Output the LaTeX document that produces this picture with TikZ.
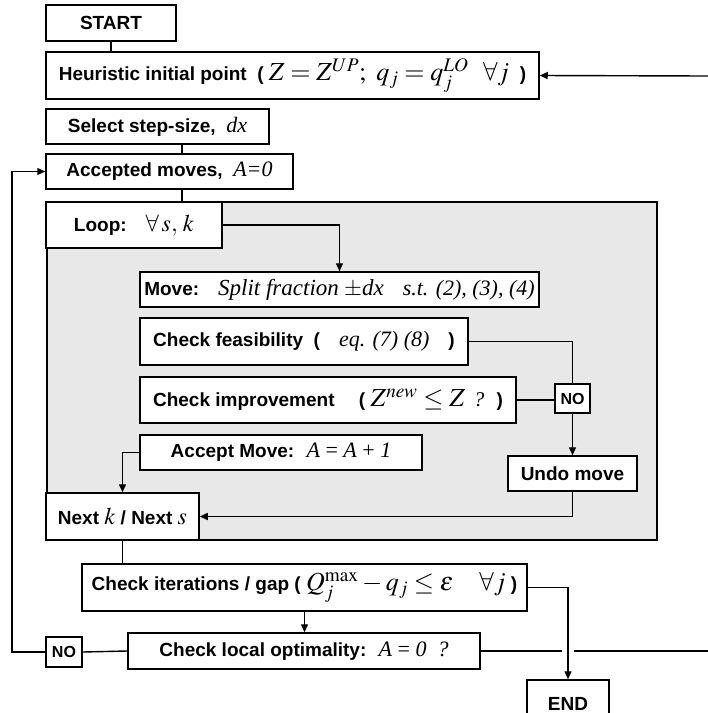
\documentclass[tikz,border=0pt]{standalone}
\usepackage{mathptmx}
\usepackage[no-math]{fontspec}
\setmainfont{Liberation Sans}
\newfontfamily\tms{Liberation Serif}
\usetikzlibrary{arrows.meta}
\newcommand\mth[2]{{\fontsize{#1}{#1}\selectfont$#2$}}
\newcommand\ti[2]{{\fontsize{#1}{#1}\selectfont\tms\mdseries\itshape #2}}
\newcommand\tu[2]{{\fontsize{#1}{#1}\selectfont\tms\mdseries #2}}
\begin{document}
\begin{tikzpicture}[x=1pt,y=-1pt,
  box/.style={draw, fill=white, line width=1.5pt, inner sep=0pt,
    font=\fontsize{19}{22}\selectfont\bfseries},
  nobox/.style={box, font=\fontsize{16}{18}\selectfont\bfseries},
  conn/.style={line width=1.4pt},
  arr/.style={conn, -{Triangle[length=8pt,width=7pt]}}]
\useasboundingbox (0,0) rectangle (708,713);
% shaded loop region
\draw[fill=black!9, line width=2.8pt] (47,202) rectangle (657,540);

% nodes
\node[box, minimum width=130pt, minimum height=36pt] (start) at (111,23) {START};
\node[box, minimum width=493pt, minimum height=47pt] (heur) at (292.5,75.5)
  {Heuristic initial point \ ( \mth{26}{Z = Z^{UP};\ q_j = q_j^{LO}\ \ \forall j} \ )};
\node[box, minimum width=223pt, minimum height=35pt] (sel) at (157.5,126.5)
  {Select step-size, \ \ti{22}{dx}};
\node[box, minimum width=247pt, minimum height=35pt] (acc) at (169.5,171.5)
  {Accepted moves, \ \ti{22}{A=0}};
\node[box, minimum width=176pt, minimum height=46pt] (loop) at (134,225)
  {Loop:\quad \mth{24}{\forall\, s,\, k}};
\node[box, minimum width=399pt, minimum height=35pt] (move) at (339.5,289.5)
  {Move:\quad \ti{23}{Split fraction} \tu{23}{$\pm$}\ti{23}{dx}\quad \ti{22}{s.t. (2), (3), (4)}};
\node[box, minimum width=328pt, minimum height=47pt] (feas) at (304,341.5)
  {Check feasibility \ (\quad \ti{22}{eq. (7) (8)}\quad )};
\node[box, minimum width=376pt, minimum height=46pt] (impr) at (328,400)
  {Check improvement \quad ( \mth{26}{Z^{new} \le Z} \ti{21}{\,?} \ )};
\node[nobox, minimum width=35pt, minimum height=29pt] (no1) at (572.5,398.5) {NO};
\node[box, minimum width=129pt, minimum height=35pt] (undo) at (572.5,473.5) {Undo move};
\node[box, minimum width=282pt, minimum height=35pt] (accm) at (281,452.5)
  {Accept Move: \ {\fontsize{22}{22}\selectfont\tms\mdseries\itshape A \upshape= \itshape A \upshape+ \itshape 1}};
\node[box, minimum width=153pt, minimum height=47pt] (next) at (122.5,516.5)
  {Next \mth{24}{k} / Next \mth{24}{s}};
\node[box, minimum width=445pt, minimum height=47pt] (iter) at (304.5,587.5)
  {Check iterations / gap ( \mth{26}{Q_j^{\max} - q_j \le \varepsilon \quad \forall j} )};
\node[box, minimum width=352pt, minimum height=36pt] (local) at (304,651)
  {Check local optimality: \ {\fontsize{22}{22}\selectfont\tms\mdseries\itshape A \upshape= \itshape 0\ \ ?}};
\node[nobox, minimum width=36pt, minimum height=30pt] (no2) at (64,652) {NO};
\node[box, minimum width=82pt, minimum height=47pt] (end) at (568,703.5) {END};

% free ends / bends
\coordinate (rtop) at (708,76);
\coordinate (lft) at (12,400);
\coordinate (hopL) at (562,651);
\coordinate (hopR) at (574,651);
\coordinate (rbot) at (708,651);

% connectors
\draw[conn] (start.south) -- (start.south |- heur.north);
\draw[arr] (rtop) -- (heur.east);
\draw[conn] ([xshift=24.5pt]sel.south) -- ([xshift=24.5pt]sel.south |- acc.north);
\draw[conn] ([xshift=12.5pt]acc.south) -- ([xshift=12.5pt]acc.south |- loop.north);
\draw[arr] (loop.east) -| (move.north);
\draw[conn] (feas.east) -| (no1.north);
\draw[conn] (impr.east) -- (impr.east -| no1.west);
\draw[arr] (no1.south) -- (undo.north);
\draw[arr] (undo.south) |- (next.east);
\draw[arr] (accm.west) -| (next.north);
\draw[conn] (next.south) -- (next.south |- iter.north);
\draw[arr] (iter.south) -- (iter.south |- local.north);
\draw[arr] (iter.east) -| (end.north);
\draw[conn] (local.west) -- (no2.east);
\draw[arr] (no2.west) -| (lft) |- (acc.west);
\draw[conn] (local.east) -- (hopL);
\draw[conn] (hopR) -- (rbot);
\end{tikzpicture}
\end{document}
